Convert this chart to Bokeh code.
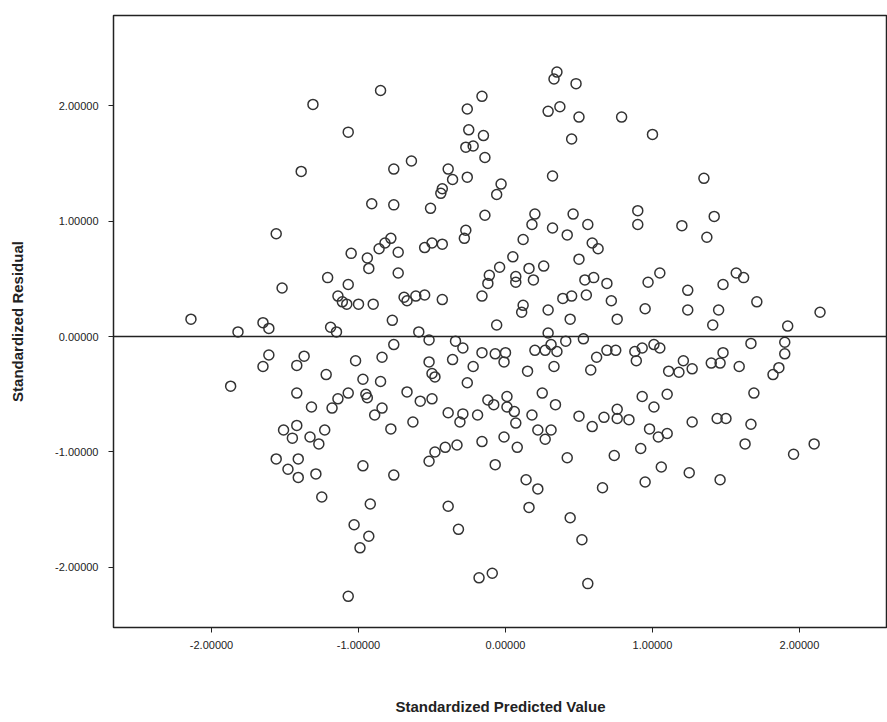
from bokeh.plotting import figure
from bokeh.models import Range1d, FixedTicker, PrintfTickFormatter, Span, ColumnDataSource
from bokeh.embed import file_html
from bokeh.resources import INLINE

# Standardized predicted value (x) and standardized residual (y)
predicted = [
    -1.31, -1.39, -0.85, -1.07, -0.26, -0.16, -0.25, -0.15, -0.27, -0.22,
    -0.14, -0.64, -0.76, -0.39, -0.36, -0.26, -0.43, -0.44, -0.03, -0.06,
    -0.91, -0.76, -0.51, -0.14, 0.35, 0.33, 0.48, 0.29, 0.37, 0.50,
    0.79, 0.45, 1.00, 0.32, 1.35, 0.20, 0.18, 0.46, 0.56, 0.90,
    0.90, 1.20, 0.32, 1.42,
    -1.56, -1.52, -2.14, -1.82, -1.65, -1.61, -1.61, -1.65, -1.37, -1.42,
    -1.87, -1.42, -1.32, -1.51, -1.42,
    -1.45, -1.33, -1.56, -1.41, -1.48, -1.41,
    -0.27, -0.28, -1.05, -0.94, -0.93, -0.86, -0.82, -0.78, -0.73, -0.73,
    -0.55, -0.50, -0.43, -1.21, -1.07, -1.14, -1.11, -1.08, -1.00, -0.90,
    -0.69, -0.67, -0.61, -0.55, -0.43, -0.77, -1.19, -1.15, -0.59, -0.52,
    -0.76, -0.34, -0.29, -0.16, -0.12, -0.11, -0.04, 0.05, -0.06, -1.02,
    -0.84, -0.52, -0.36, -0.22, -0.16, -0.07, -0.01, 0.00, -1.22, -0.97,
    -0.85, -0.50, -0.48, -0.26, -1.18, -1.14, -1.07, -0.95, -0.94, -0.67,
    -0.58, -0.50, -0.84, -0.89, -0.39, -0.31, -0.29, -0.19, -0.12, -0.08,
    0.01, 0.01, -0.63, -1.23, -0.78,
    1.37, 0.42, 0.12, 0.59, 0.63, 0.50, 0.16, 0.26, 0.07, 0.07,
    0.19, 0.54, 0.60, 0.69, 0.97, 1.05, 1.24, 0.39, 0.45, 0.55,
    0.72, 0.12, 0.11, 0.29, 0.44, 0.76, 0.95, 1.24, 0.29, 0.31,
    0.27, 0.20, 0.35, 0.41, 0.53, 0.15, 0.33, 0.62, 0.69, 0.75,
    0.58, 0.88, 0.93, 0.89, 1.01, 1.05, 1.21, 1.11, 1.18, 1.27,
    0.06, 0.07, 0.25, 0.34, 0.18, 0.22, 0.31, 0.50, 0.67, 0.76,
    0.76, 0.84, 0.59, 0.93, 1.01, 1.10, 1.27, 0.98, 1.04, 1.10,
    1.57, 1.62, 1.48, 1.71, 2.14, 1.45, 1.41, 1.92, 1.67, 1.90,
    1.90, 1.48, 1.40, 1.46, 1.59, 1.86, 1.82, 1.69, 1.44, 1.50,
    1.67, 1.63, 1.96, 2.10, 1.46,
    -1.27, -1.29, -1.25, -0.97, -0.76, -0.92, -1.03, -0.93, -0.99, -1.07,
    -0.52, -0.48, -0.41, -0.33, -0.16, -0.01, -0.07, -0.39, -0.32, -0.18,
    -0.09,
    0.08, 0.27, 0.92, 0.42, 0.74, 1.06, 1.25, 0.95, 0.14, 0.22,
    0.16, 0.66, 0.44, 0.52, 0.56,
]
residual = [
    2.01, 1.43, 2.13, 1.77, 1.97, 2.08, 1.79, 1.74, 1.64, 1.65,
    1.55, 1.52, 1.45, 1.45, 1.36, 1.38, 1.28, 1.24, 1.32, 1.23,
    1.15, 1.14, 1.11, 1.05, 2.29, 2.23, 2.19, 1.95, 1.99, 1.90,
    1.90, 1.71, 1.75, 1.39, 1.37, 1.06, 0.97, 1.06, 0.97, 1.09,
    0.97, 0.96, 0.94, 1.04,
    0.89, 0.42, 0.15, 0.04, 0.12, 0.07, -0.16, -0.26, -0.17, -0.25,
    -0.43, -0.49, -0.61, -0.81, -0.77,
    -0.88, -0.87, -1.06, -1.06, -1.15, -1.22,
    0.92, 0.85, 0.72, 0.68, 0.59, 0.76, 0.81, 0.85, 0.73, 0.55,
    0.77, 0.81, 0.80, 0.51, 0.45, 0.35, 0.30, 0.28, 0.28, 0.28,
    0.34, 0.31, 0.35, 0.36, 0.32, 0.14, 0.08, 0.04, 0.04, -0.03,
    -0.07, -0.04, -0.10, 0.35, 0.46, 0.53, 0.60, 0.69, 0.10, -0.21,
    -0.18, -0.22, -0.20, -0.26, -0.14, -0.15, -0.22, -0.14, -0.33, -0.37,
    -0.39, -0.32, -0.35, -0.40, -0.62, -0.54, -0.49, -0.50, -0.53, -0.48,
    -0.56, -0.54, -0.62, -0.68, -0.66, -0.74, -0.67, -0.68, -0.55, -0.59,
    -0.52, -0.61, -0.74, -0.81, -0.80,
    0.86, 0.88, 0.84, 0.81, 0.76, 0.67, 0.59, 0.61, 0.52, 0.47,
    0.49, 0.49, 0.51, 0.46, 0.47, 0.55, 0.40, 0.33, 0.35, 0.36,
    0.31, 0.27, 0.21, 0.23, 0.15, 0.15, 0.24, 0.23, 0.03, -0.07,
    -0.12, -0.12, -0.13, -0.04, -0.02, -0.30, -0.26, -0.18, -0.12, -0.12,
    -0.29, -0.13, -0.10, -0.21, -0.07, -0.10, -0.21, -0.30, -0.31, -0.28,
    -0.65, -0.75, -0.49, -0.59, -0.68, -0.81, -0.81, -0.69, -0.70, -0.63,
    -0.71, -0.72, -0.78, -0.52, -0.61, -0.50, -0.74, -0.80, -0.87, -0.84,
    0.55, 0.51, 0.45, 0.30, 0.21, 0.23, 0.10, 0.09, -0.06, -0.05,
    -0.15, -0.14, -0.23, -0.23, -0.26, -0.27, -0.33, -0.49, -0.71, -0.71,
    -0.76, -0.93, -1.02, -0.93, -1.24,
    -0.93, -1.19, -1.39, -1.12, -1.20, -1.45, -1.63, -1.73, -1.83, -2.25,
    -1.08, -1.00, -0.96, -0.94, -0.91, -0.87, -1.11, -1.47, -1.67, -2.09,
    -2.05,
    -0.96, -0.89, -0.97, -1.05, -1.03, -1.13, -1.18, -1.26, -1.24, -1.32,
    -1.48, -1.31, -1.57, -1.76, -2.14,
]

x_ticks = [-2, -1, 0, 1, 2]
y_ticks = [-2, -1, 0, 1, 2]

FONT = "Liberation Sans"

src = ColumnDataSource(data=dict(x=predicted, y=residual))

p = figure(width=887, height=722, output_backend="svg", toolbar_location=None,
           x_range=Range1d(-2.667, 2.599), y_range=Range1d(-2.52, 2.78),
           min_border_left=113, min_border_right=0, min_border_top=15,
           min_border_bottom=95)

p.scatter("x", "y", source=src, marker="circle", size=10, fill_color=None,
          line_color="#333333", line_width=1.5)

p.add_layout(Span(location=0, dimension="width", line_color="#222222", line_width=1.3))

p.xgrid.visible = False
p.ygrid.visible = False
p.outline_line_color = "#222222"
p.outline_line_width = 1.5
p.background_fill_color = "white"
p.border_fill_color = "white"

for ax, ticks in ((p.xaxis[0], x_ticks), (p.yaxis[0], y_ticks)):
    ax.ticker = FixedTicker(ticks=ticks)
    ax.formatter = PrintfTickFormatter(format="%.5f")
    ax.major_label_text_font = FONT
    ax.major_label_text_font_size = "11px"
    ax.major_label_text_color = "#222222"
    ax.axis_label_text_font = FONT
    ax.axis_label_text_font_size = "15px"
    ax.axis_label_text_font_style = "bold"
    ax.axis_label_text_color = "#222222"
    ax.axis_line_color = "#222222"
    ax.major_tick_line_color = "#222222"
    ax.major_tick_in = 0
    ax.major_tick_out = 5
    ax.minor_tick_line_color = None

p.xaxis.axis_label = "Standardized Predicted Value"
p.yaxis.axis_label = "Standardized Residual"
p.xaxis.major_label_standoff = 8
p.xaxis.axis_label_standoff = 46
p.yaxis.major_label_standoff = 10
p.yaxis.axis_label_standoff = 26

open("out.html", "w").write(file_html(p, INLINE))
